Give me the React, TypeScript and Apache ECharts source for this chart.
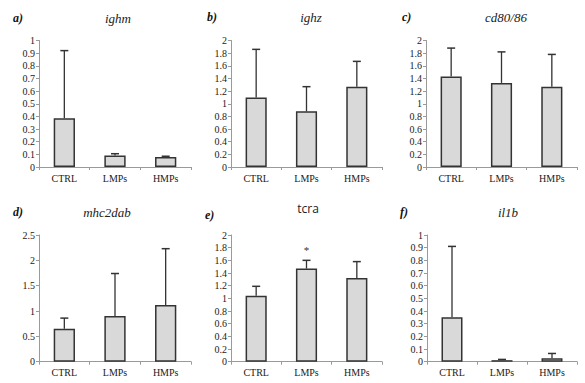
import React, { useEffect, useRef } from "react";
import * as echarts from "echarts";

const categories = ["CTRL", "LMPs", "HMPs"];

const ighmMean = [0.385, 0.09, 0.08];
const ighmUpper = [0.92, 0.105, 0.085];
const ighzMean = [1.1, 0.88, 1.27];
const ighzUpper = [1.86, 1.27, 1.67];
const cd8086Mean = [1.43, 1.33, 1.27];
const cd8086Upper = [1.88, 1.82, 1.78];
const mhc2dabMean = [0.65, 0.9, 1.12];
const mhc2dabUpper = [0.86, 1.74, 2.23];
const tcraMean = [1.04, 1.47, 1.32];
const tcraUpper = [1.19, 1.6, 1.58];
const il1bMean = [0.35, 0.012, 0.028];
const il1bUpper = [0.91, 0.018, 0.065];

const tcraSignificance = ["", "*", ""];

const panelLetters = ["a)", "b)", "c)", "d)", "e)", "f)"];
const panelTitles = ["ighm", "ighz", "cd80/86", "mhc2dab", "tcra", "il1b"];
const yMax = [1, 2, 2, 2.5, 2, 1];
const yInterval = [0.1, 0.2, 0.2, 0.5, 0.2, 0.1];

const means = [ighmMean, ighzMean, cd8086Mean, mhc2dabMean, tcraMean, il1bMean];
const uppers = [ighmUpper, ighzUpper, cd8086Upper, mhc2dabUpper, tcraUpper, il1bUpper];

// layout (pixels)
const gridRects = [
  { left: 39, top: 40.5, width: 152, height: 126.5 },
  { left: 231, top: 40.5, width: 151, height: 126.5 },
  { left: 426, top: 40.5, width: 151, height: 126.5 },
  { left: 39, top: 235, width: 152, height: 126.7 },
  { left: 231, top: 235, width: 151, height: 126.7 },
  { left: 427, top: 235, width: 150, height: 126.7 },
];
const letterPos = [
  [13, 18], [207, 17], [402, 17], [13, 212], [205, 215], [400, 212],
];
const titlePos = [
  [118, 18], [311, 17], [506, 17], [107, 212], [308, 208], [508, 212],
];

const SERIF = "Liberation Serif";

export default function App() {
  const ref = useRef<HTMLDivElement>(null);
  useEffect(() => {
    if (!ref.current) return;
    const chart = echarts.init(ref.current, undefined, { renderer: "svg" });

    const grid = gridRects.map((g) => ({ ...g, containLabel: false }));
    const xAxis = gridRects.map((_, i) => ({
      type: "category",
      gridIndex: i,
      data: categories,
      boundaryGap: true,
      axisLine: { lineStyle: { color: "#9a9a9a", width: 1 } },
      axisTick: { show: true, length: 3, lineStyle: { color: "#9a9a9a" } },
      axisLabel: { color: "#1a1a1a", fontFamily: SERIF, fontSize: 10, margin: 6 },
    }));
    const yAxis = gridRects.map((_, i) => ({
      type: "value",
      gridIndex: i,
      min: 0,
      max: yMax[i],
      interval: yInterval[i],
      axisLine: { show: true, lineStyle: { color: "#9a9a9a", width: 1 } },
      axisTick: { show: true, length: 3, lineStyle: { color: "#9a9a9a" } },
      splitLine: { show: false },
      axisLabel: {
        color: "#1a1a1a",
        fontFamily: SERIF,
        fontSize: 10,
        margin: 4,
        formatter: (v: number) => String(+v.toFixed(2)),
      },
    }));

    const series: any[] = [];
    gridRects.forEach((_, i) => {
      series.push({
        type: "bar",
        xAxisIndex: i,
        yAxisIndex: i,
        data: means[i],
        barWidth: "42%",
        itemStyle: { color: "#d9d9d9", borderColor: "#333", borderWidth: 1.5 },
      });
      series.push({
        type: "custom",
        xAxisIndex: i,
        yAxisIndex: i,
        itemStyle: { color: "#333" },
        encode: { x: 0, y: [1, 2] },
        data: categories.map((_, k) => [k, means[i][k], uppers[i][k]]),
        renderItem: (params: any, api: any) => {
          const k = api.value(0);
          const m = api.value(1);
          const u = api.value(2);
          const p1 = api.coord([k, m]);
          const p2 = api.coord([k, u]);
          const children: any[] = [
            {
              type: "line",
              shape: { x1: p1[0], y1: p1[1], x2: p2[0], y2: p2[1] },
              style: { stroke: "#333", lineWidth: 1.3 },
            },
            {
              type: "line",
              shape: { x1: p2[0] - 4, y1: p2[1], x2: p2[0] + 4, y2: p2[1] },
              style: { stroke: "#333", lineWidth: 1.5 },
            },
          ];
          const sig = i === 4 ? tcraSignificance[params.dataIndex] : "";
          if (sig) {
            children.push({
              type: "text",
              x: p2[0],
              y: p2[1] - 10,
              style: {
                text: sig,
                fill: "#333",
                fontFamily: SERIF,
                fontSize: 11,
                textAlign: "center",
                textVerticalAlign: "middle",
              },
            });
          }
          return { type: "group", children };
        },
        z: 3,
      });
    });

    const graphic: any[] = [];
    panelLetters.forEach((l, i) => {
      graphic.push({
        type: "text",
        x: letterPos[i][0],
        y: letterPos[i][1],
        style: {
          text: l,
          fill: "#111",
          fontFamily: SERIF,
          fontStyle: "italic",
          fontWeight: "bold",
          fontSize: 12,
          textAlign: "left",
          textVerticalAlign: "middle",
        },
      });
      const isSans = i === 4;
      graphic.push({
        type: "text",
        x: titlePos[i][0],
        y: titlePos[i][1],
        style: {
          text: panelTitles[i],
          fill: "#222",
          fontFamily: isSans ? "Open Sans" : SERIF,
          fontStyle: isSans ? "normal" : "italic",
          fontSize: isSans ? 12 : 13,
          textAlign: "center",
          textVerticalAlign: "middle",
        },
      });
    });

    chart.setOption({
      animation: false,
      backgroundColor: "#fff",
      grid,
      xAxis,
      yAxis,
      series,
      graphic,
    });
    return () => chart.dispose();
  }, []);
  return <div ref={ref} style={{ width: 585, height: 383, position: "absolute", left: 0, top: 0 }} />;
}
